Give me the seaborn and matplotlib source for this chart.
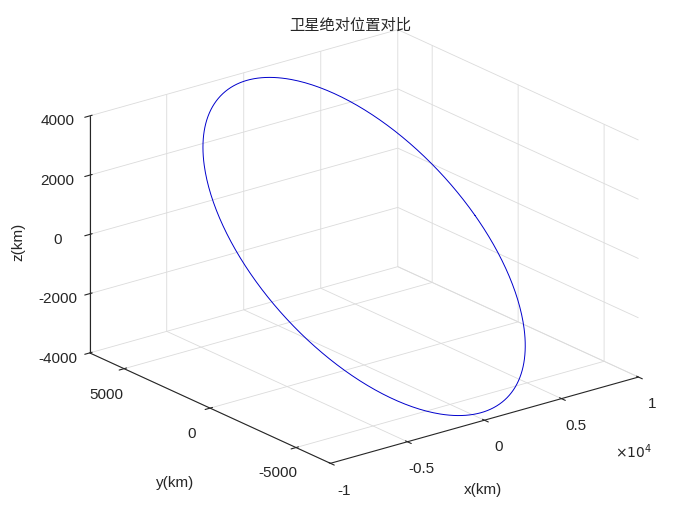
import numpy as np
import seaborn as sns
import matplotlib
matplotlib.use("Agg")
import matplotlib.pyplot as plt

sns.set_style("white")
plt.rcParams['font.family'] = ['Liberation Sans', 'Noto Sans CJK SC', 'DejaVu Sans']

# orbit parameters (km)
radius_x = 7200.0
radius_y = 6800.0
radius_z = 3800.0
anomaly = np.linspace(0, 2*np.pi, 400)
x = radius_x * np.cos(anomaly)
y = radius_y * np.sin(anomaly)
z = radius_z * np.sin(anomaly)

W, H = 700, 525
fig = plt.figure(figsize=(7, 5.25), dpi=100)
ax = fig.add_axes([0.01, 0.017, 1.0, 1.0], projection='3d', proj_type='ortho')
ax.set_box_aspect((1.54, 1.54, 1.0), zoom=1.125)
ax.plot(x, y, z, color='#0000cc', lw=0.7)
ax.set_xlim(-1e4, 1e4); ax.set_ylim(-7000, 7000); ax.set_zlim(-4000, 4000)
ax.set_xticks([-1e4, -5e3, 0, 5e3, 1e4])
ax.set_xticklabels(['-1', '-0.5', '0', '0.5', '1'])
ax.set_yticks([-5000, 0, 5000]); ax.set_yticklabels(['-5000', '0', '5000'])
ax.set_zticks([-4000, -2000, 0, 2000, 4000])
ax.set_zticklabels(['-4000', '-2000', '0', '2000', '4000'])
ax.tick_params(labelsize=11)
fig.text(18/W, 1-242/H, 'z(km)', fontsize=11, rotation=90, ha='center', va='center')
fig.text(175/W, 1-483/H, 'y(km)', fontsize=11, ha='center', va='center')
fig.text(483/W, 1-490/H, 'x(km)', fontsize=11, ha='center', va='center')
fig.text(615/W, 1-452/H, r'$\times10^4$', fontsize=10, ha='left', va='center')
fig.text(0.5, 1-25/H, '卫星绝对位置对比', fontsize=11, ha='center', va='center',
         family=['Noto Sans CJK SC'])
for a in (ax.xaxis, ax.yaxis, ax.zaxis):
    a.set_pane_color((1, 1, 1, 1))
    a._axinfo['grid']['color'] = (0.86, 0.86, 0.86, 1)
    a._axinfo['grid']['linewidth'] = 0.6
ax.view_init(elev=21, azim=-128)
fig.savefig('out.png')
